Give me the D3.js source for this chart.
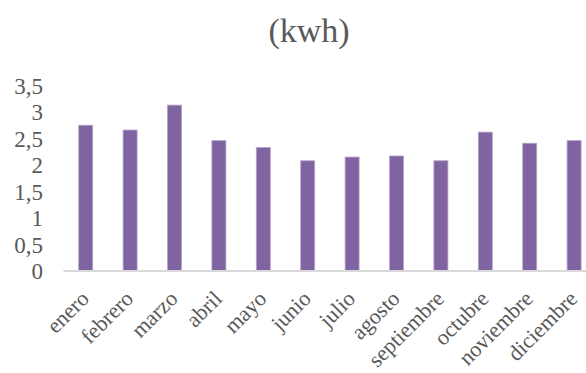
<!DOCTYPE html>
<html>
<head>
<meta charset="utf-8">
<script src="https://cdn.jsdelivr.net/npm/d3@7"></script>
<style>
  html, body { margin: 0; padding: 0; background: #ffffff; }
  svg { display: block; }
  svg text { font-family: "Liberation Serif", "Times New Roman", Times, "DejaVu Serif", serif; }
</style>
</head>
<body>
<svg id="chart" width="586" height="373"></svg>
<script>
// Monthly consumption (kWh)
const months = ["enero", "febrero", "marzo", "abril", "mayo", "junio",
                "julio", "agosto", "septiembre", "octubre", "noviembre", "diciembre"];
const consumption = [2.75, 2.66, 3.13, 2.46, 2.33, 2.08, 2.15, 2.17, 2.08, 2.62, 2.41, 2.46];
const yTicks = [0, 0.5, 1, 1.5, 2, 2.5, 3, 3.5];
const yTickLabels = ["0", "0,5", "1", "1,5", "2", "2,5", "3", "3,5"];
const title = "(kwh)";

const svg = d3.select("#chart");
const textColor = "#595959";

const plot = { left: 63.5, right: 596.3, top: 85.5, bottom: 271 };

const x = d3.scaleBand()
  .domain(months)
  .range([plot.left, plot.right])
  .paddingInner(0.685)
  .paddingOuter(0.3425);

const y = d3.scaleLinear()
  .domain([0, 3.5])
  .range([plot.bottom, plot.top]);

// Title
svg.append("text")
  .attr("x", 309)
  .attr("y", 42)
  .attr("text-anchor", "middle")
  .style("font-size", "34px")
  .attr("fill", textColor)
  .text(title);

// Bars
svg.append("g")
  .selectAll("rect")
  .data(consumption)
  .join("rect")
  .attr("x", (d, i) => x(months[i]))
  .attr("y", d => y(d))
  .attr("width", x.bandwidth())
  .attr("height", d => y(0) - y(d))
  .attr("fill", "#8064a2")
  .attr("stroke", "#b3a2c7")
  .attr("stroke-width", 0.8);

// Value axis (labels only)
const yAxis = d3.axisLeft(y)
  .tickValues(yTicks)
  .tickFormat((d, i) => yTickLabels[i])
  .tickSize(0)
  .tickPadding(0);

const gy = svg.append("g")
  .attr("transform", "translate(43,0)")
  .call(yAxis)
  .attr("font-family", null)
  .attr("font-size", null);
gy.select(".domain").remove();
gy.selectAll("text")
  .style("font-size", "23px")
  .attr("fill", textColor)
  .attr("dy", "0.34em");

// Category axis
const xAxis = d3.axisBottom(x).tickSize(0).tickPadding(0);
const gx = svg.append("g")
  .attr("transform", `translate(0,${plot.bottom})`)
  .call(xAxis)
  .attr("font-family", null)
  .attr("font-size", null);
gx.select(".domain")
  .attr("stroke", "#d9d9d9")
  .attr("stroke-width", 2)
  .attr("d", `M${plot.left},0H${plot.right}`);
gx.selectAll(".tick text")
  .style("font-size", "22px")
  .attr("fill", textColor)
  .attr("text-anchor", "end")
  .attr("dy", null)
  .attr("y", null)
  .attr("transform", "translate(4.5,29) rotate(-45)");
</script>
</body>
</html>
